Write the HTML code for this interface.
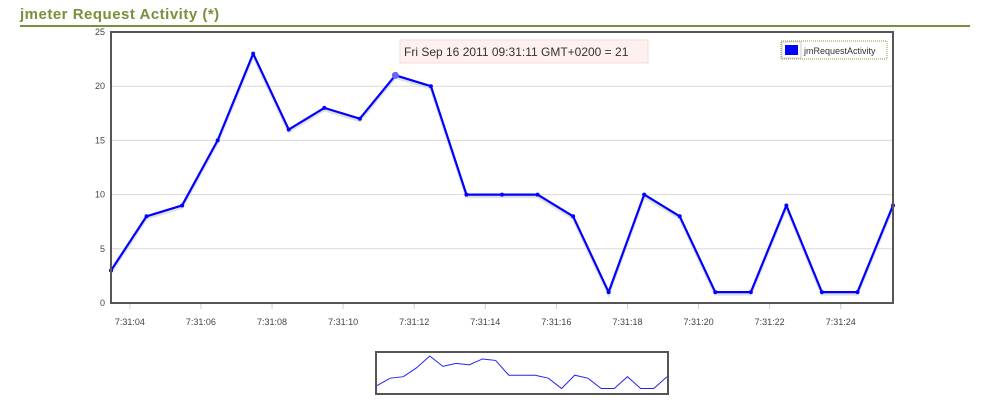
<!DOCTYPE html>
<html><head><meta charset="utf-8"><style>
body{margin:0;background:#fff;width:989px;height:420px;overflow:hidden;font-family:"Liberation Sans","DejaVu Sans",sans-serif}
#title{position:absolute;left:20px;top:6px;font-size:15px;font-weight:bold;color:#77903a;letter-spacing:0.5px}
#rule{position:absolute;left:20px;top:25px;width:950px;height:2px;background:#77903a}
svg{position:absolute;left:0;top:0}
</style></head><body>
<div id="title">jmeter Request Activity (*)</div>
<div id="rule"></div>
<svg id="c" width="989" height="420"></svg>
<script>
const values=[3,8,9,15,23,16,18,17,21,20,10,10,10,8,1,10,8,1,1,9,1,1,9];
const yTicks=[0,5,10,15,20,25];
const xTickLabels=["7:31:04","7:31:06","7:31:08","7:31:10","7:31:12","7:31:14","7:31:16","7:31:18","7:31:20","7:31:22","7:31:24"];
const xTickIndex=[0.53,2.53,4.53,6.53,8.53,10.53,12.53,14.53,16.53,18.53,20.53];
const NS="http://www.w3.org/2000/svg";
const svg=document.getElementById('c');
function mk(t,a,p){const e=document.createElementNS(NS,t);for(const k in a)e.setAttribute(k,a[k]);(p||svg).appendChild(e);return e;}
const L=111,R=893,T=32,B=303;
const x=i=>L+i*(R-L)/(values.length-1);
const y=v=>B-v*(B-T)/25;
// grid
yTicks.forEach(v=>{
 if(v>0&&v<25){const g=mk('line',{x1:L,x2:R,y1:y(v),y2:y(v),stroke:'#d8d8d8','stroke-width':1});
 
 }
 const t=mk('text',{x:L-6,y:y(v)+3,'text-anchor':'end','font-size':9,fill:'#444'});t.textContent=v;
 
 
});
xTickIndex.forEach((xi,k)=>{
 const px=L+xi*(R-L)/(values.length-1);
 mk('line',{x1:px,x2:px,y1:B+1,y2:B+6,stroke:'#ccc'});
 const t=mk('text',{x:px,y:325,'text-anchor':'middle','font-size':9,fill:'#444'});t.textContent=xTickLabels[k];
 
 
});
const pts=values.map((v,i)=>x(i)+','+y(v)).join(' ');
const sh=mk('polyline',{points:values.map((v,i)=>x(i)+','+(y(v)+2)).join(' '),fill:'none',stroke:'#ccc','stroke-width':3,opacity:0.6});
const line=mk('polyline',{points:pts,fill:'none',stroke:'#0000ff','stroke-width':2.2,'stroke-linejoin':'round'});


values.forEach((v,i)=>{const c=mk('circle',{cx:x(i),cy:y(v),r:i==8?3.5:2,fill:i==8?'#6666ff':'#0000ff'});
 
 });
const box=mk('rect',{x:L,y:T,width:R-L,height:B-T,fill:'none',stroke:'#555','stroke-width':2});


// tooltip
const tip=mk('rect',{x:400,y:40,width:248,height:23,fill:'#fff0f0',stroke:'#fadada'});


const tt=mk('text',{x:404,y:56,'font-size':12,fill:'#333'});tt.textContent='Fri Sep 16 2011 09:31:11 GMT+0200 = 21';
// legend
const lg=mk('rect',{x:781,y:41,width:106,height:18,fill:'#fff',stroke:'#8a9a3a','stroke-dasharray':'1,1'});


mk('rect',{x:782,y:42,width:19,height:16,fill:'#fff',stroke:'#ccc'});
mk('rect',{x:785,y:45,width:13,height:10,fill:'#0000ff'});
const lt=mk('text',{x:804,y:54,'font-size':9,fill:'#333'});lt.textContent='jmRequestActivity';


// overview
const oL=377,oR=667,oT=353,oB=393;
const ox=i=>oL+i*(oR-oL)/(values.length-1), oy=v=>oB-3-v*(oB-oT-6)/23;
const ol=mk('polyline',{points:values.map((v,i)=>ox(i)+','+oy(v)).join(' '),fill:'none',stroke:'#2222ff','stroke-width':1});


const ob=mk('rect',{x:oL-1,y:oT-1,width:oR-oL+2,height:oB-oT+2,fill:'none',stroke:'#555','stroke-width':2});


</script>
</body></html>
